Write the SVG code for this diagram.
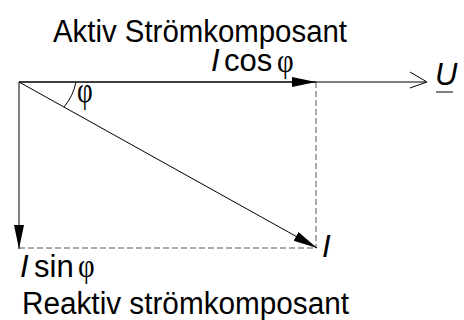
<svg xmlns="http://www.w3.org/2000/svg" width="464" height="320" viewBox="0 0 464 320">
<style>
.t{font-family:"Liberation Sans",Arial,sans-serif;font-size:31px;fill:#000}
.i{font-style:italic}
.p{font-family:"Liberation Serif","Times New Roman",serif;font-size:34px;font-style:normal;fill:#000}
.ln{stroke:#000;stroke-width:1;fill:none}
.ds{stroke:#555;stroke-width:1;fill:none;stroke-dasharray:6 3}
</style>
<defs>
<marker id="ah" markerWidth="24" markerHeight="12" refX="24" refY="6" orient="auto" markerUnits="userSpaceOnUse">
<path d="M0,1 L24,6 L0,11 Z" fill="#000"/>
</marker>
</defs>
<rect width="464" height="320" fill="#fff"/>
<g id="connectors">
<line class="ds" x1="316" y1="82" x2="316" y2="248"/>
<line class="ds" x1="19" y1="248" x2="316" y2="248"/>
<line class="ln" x1="19" y1="82" x2="426" y2="82"/>
<path class="ln" d="M410,72 L427,82 L410,88"/>
<line class="ln" x1="19" y1="82" x2="316" y2="82" marker-end="url(#ah)"/>
<line class="ln" x1="19" y1="82" x2="19" y2="249" marker-end="url(#ah)"/>
<line class="ln" x1="19" y1="82" x2="317" y2="248" marker-end="url(#ah)"/>
<path class="ln" d="M76,82 A56,56 0 0 1 64,107"/>
</g>
<g id="aktiv"><text class="t" x="53" y="42" textLength="294" lengthAdjust="spacingAndGlyphs">Aktiv Strömkomposant</text></g>
<g id="icos">
<text class="t i" x="211" y="71">I</text>
<text class="t" x="224" y="71">cos</text>
<text class="p" transform="translate(277,72) scale(0.85,1)">φ</text>
</g>
<g id="u"><text class="t i" x="435" y="85">U</text><line class="ln" x1="436" y1="92" x2="453" y2="92"/></g>
<g id="phi"><text class="p" transform="translate(77,102) scale(0.8,1.08)">φ</text></g>
<g id="i"><text class="t i" x="322" y="257">I</text></g>
<g id="isin">
<text class="t i" x="20" y="277">I</text>
<text class="t" x="34" y="277">sin</text>
<text class="p" transform="translate(78,277) scale(0.85,1)">φ</text>
</g>
<g id="reaktiv"><text class="t" x="22" y="314" textLength="327" lengthAdjust="spacingAndGlyphs">Reaktiv strömkomposant</text></g>
</svg>
